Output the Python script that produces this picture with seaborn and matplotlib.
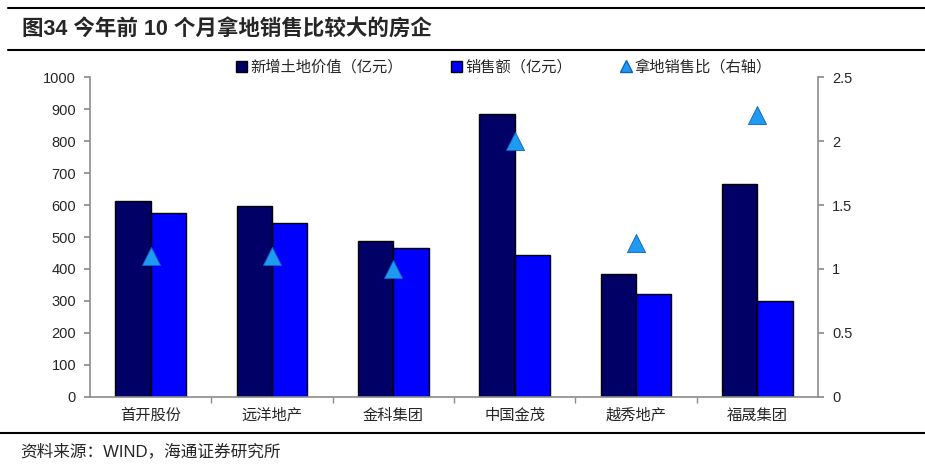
import matplotlib
matplotlib.use("Agg")
import matplotlib.pyplot as plt
import seaborn as sns
import pandas as pd
from matplotlib.lines import Line2D
from matplotlib.patches import Patch

categories = ["首开股份", "远洋地产", "金科集团", "中国金茂", "越秀地产", "福晟集团"]
land_value = [612, 597, 487, 884, 384, 666]
sales = [575, 544, 466, 444, 322, 300]
ratio = [1.1, 1.1, 1.0, 2.0, 1.2, 2.2]
series_names = ["新增土地价值（亿元）", "销售额（亿元）", "拿地销售比（右轴）"]
title_text = "图34 今年前 10 个月拿地销售比较大的房企"
source_text = "资料来源：WIND，海通证券研究所"

sns.set_theme(style="white")
plt.rcParams['font.family'] = ['Liberation Sans', 'Noto Sans CJK SC', 'DejaVu Sans']

dark = "#000066"
blue = "#0000FF"
tri = "#1E9BF0"
gray = "#8C8C8C"

df = pd.DataFrame({
    "cat": categories * 2,
    "val": land_value + sales,
    "series": [series_names[0]] * len(categories) + [series_names[1]] * len(categories),
})

fig = plt.figure(figsize=(9.25, 4.73), dpi=100)
ax = fig.add_axes([90 / 925, 1 - 397 / 473, (818 - 90) / 925, (397 - 77) / 473])

sns.barplot(data=df, x="cat", y="val", hue="series", order=categories,
            hue_order=series_names[:2], palette=[dark, blue], width=0.58,
            edgecolor="black", linewidth=1.0, saturation=1, ax=ax, legend=False)
ax.set_ylim(0, 1000)
ax.set_xlim(-0.5, len(categories) - 0.5)
ax.set_yticks(range(0, 1001, 100))
ax.set_xlabel("")
ax.set_ylabel("")
ax.set_xticks(range(len(categories)))
ax.set_xticklabels(categories, fontsize=11, family=['Noto Sans CJK SC'])
ax.tick_params(axis='x', length=0, pad=7)
ax.set_xticks([i + 0.5 for i in range(len(categories) - 1)], minor=True)
ax.tick_params(axis='x', which='minor', length=4, color=gray, direction='out', bottom=True)
ax.tick_params(axis='y', length=4, color=gray, direction='out', left=True, labelsize=10.5, pad=6)
for s in ["left", "bottom"]:
    ax.spines[s].set_color(gray)
    ax.spines[s].set_linewidth(1.2)
ax.spines["top"].set_visible(False)
ax.spines["right"].set_visible(False)

ax2 = ax.twinx()
sns.scatterplot(x=list(range(len(categories))), y=ratio, marker="^", s=170,
                color=tri, edgecolor="#1060C0", linewidth=0.6, ax=ax2, zorder=5)
ax2.set_ylim(0, 2.5)
ax2.set_yticks([0, 0.5, 1, 1.5, 2, 2.5])
ax2.set_yticklabels(["0", "0.5", "1", "1.5", "2", "2.5"])
ax2.tick_params(axis='y', length=4, color=gray, direction='out', right=True, labelsize=10.5, pad=6)
ax2.spines["right"].set_visible(True)
ax2.spines["right"].set_color(gray)
ax2.spines["right"].set_linewidth(1.2)
for s in ["left", "bottom", "top"]:
    ax2.spines[s].set_visible(False)

handles = [
    Patch(facecolor=dark, edgecolor="black", label=series_names[0]),
    Patch(facecolor=blue, edgecolor="black", label=series_names[1]),
    Line2D([], [], marker="^", linestyle="", markersize=8, color=tri,
           markeredgecolor="#1060C0", label=series_names[2]),
]
fig.legend(handles=handles, loc="center", bbox_to_anchor=(504 / 925, 1 - 67 / 473),
           ncol=3, frameon=False, handlelength=0.7, handleheight=0.7,
           handletextpad=0.2, columnspacing=3.2, prop={'family': ['Noto Sans CJK SC'], 'size': 11})

# title and rules
fig.add_artist(Line2D([8 / 925, 1], [1 - 8 / 473] * 2, color="black", lw=1.5))
fig.add_artist(Line2D([8 / 925, 1], [1 - 50 / 473] * 2, color="black", lw=1.5))
fig.add_artist(Line2D([0, 1], [1 - 433 / 473] * 2, color="black", lw=1.5))
fig.text(22 / 925, 1 - 30 / 473, title_text, fontsize=15.5, fontweight="bold",
         va="center", ha="left", family=['Liberation Sans', 'Noto Sans CJK SC'])
fig.text(20 / 925, 1 - 451 / 473, source_text, fontsize=12, va="center", ha="left",
         family=['Liberation Sans', 'Noto Sans CJK SC'])

fig.savefig("out.png", dpi=100)
